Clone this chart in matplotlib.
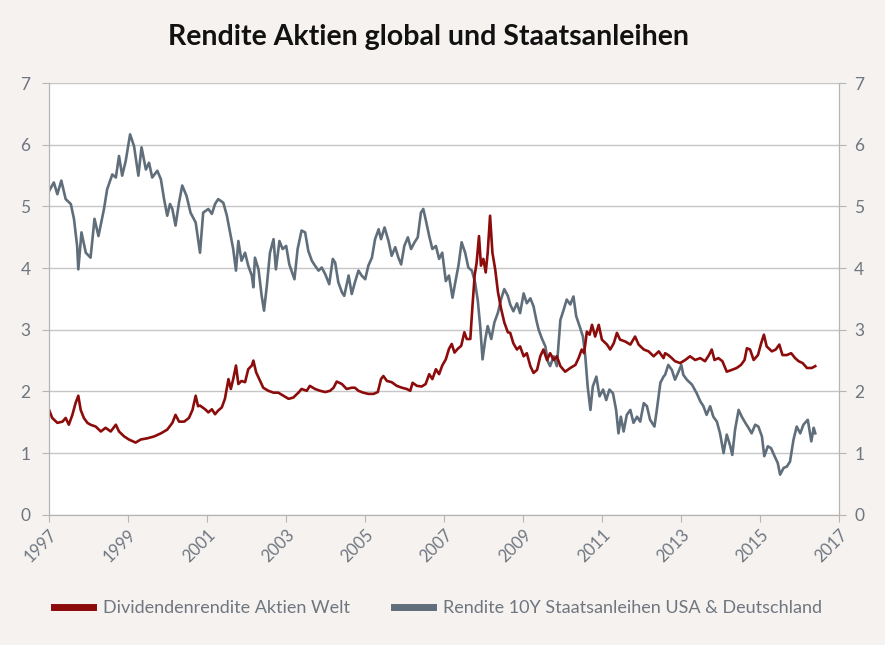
import numpy as np
import matplotlib
matplotlib.use("Agg")
import matplotlib.pyplot as plt

# Rendite 10Y Staatsanleihen USA & Deutschland
bond_years = [1997.01, 1997.13, 1997.22, 1997.32, 1997.43, 1997.56, 1997.64, 1997.72, 1997.75, 1997.83,
              1997.94, 1998.06, 1998.16, 1998.26, 1998.40, 1998.48, 1998.61, 1998.70, 1998.78, 1998.86,
              1998.95, 1999.06, 1999.16, 1999.27, 1999.35, 1999.46, 1999.54, 1999.62, 1999.75, 1999.84,
              1999.92, 2000.00, 2000.07, 2000.13, 2000.21, 2000.30, 2000.38, 2000.49, 2000.59, 2000.72,
              2000.83, 2000.91, 2001.04, 2001.13, 2001.21, 2001.29, 2001.42, 2001.51, 2001.59, 2001.67,
              2001.74, 2001.80, 2001.88, 2001.97, 2002.05, 2002.14, 2002.18, 2002.22, 2002.31, 2002.39,
              2002.45, 2002.52, 2002.60, 2002.69, 2002.75, 2002.84, 2002.92, 2003.01, 2003.09, 2003.22,
              2003.30, 2003.40, 2003.49, 2003.57, 2003.66, 2003.74, 2003.83, 2003.91, 2004.00, 2004.10,
              2004.19, 2004.25, 2004.33, 2004.42, 2004.48, 2004.59, 2004.67,
              2004.75, 2004.84, 2004.92, 2005.01, 2005.09, 2005.18, 2005.26, 2005.35, 2005.41, 2005.50,
              2005.60, 2005.68, 2005.77, 2005.85, 2005.92, 2006.00, 2006.09, 2006.17, 2006.26, 2006.34,
              2006.42, 2006.48, 2006.54, 2006.63, 2006.71, 2006.80, 2006.88, 2006.96, 2007.05, 2007.13,
              2007.22, 2007.29, 2007.37, 2007.45, 2007.54, 2007.62, 2007.71, 2007.79, 2007.86, 2007.92,
              2007.98, 2008.05, 2008.11, 2008.20, 2008.28, 2008.37, 2008.45, 2008.53, 2008.62,
              2008.68, 2008.76, 2008.85, 2008.93, 2009.02, 2009.10, 2009.19, 2009.27, 2009.34, 2009.40,
              2009.48, 2009.57, 2009.63, 2009.69, 2009.78, 2009.86, 2009.95, 2010.03, 2010.11, 2010.20,
              2010.28, 2010.35, 2010.44, 2010.52, 2010.58, 2010.64, 2010.71, 2010.77, 2010.86, 2010.94,
              2011.03, 2011.11, 2011.19, 2011.28, 2011.36, 2011.42, 2011.48, 2011.55, 2011.63, 2011.72,
              2011.80, 2011.89, 2011.97, 2012.06, 2012.14, 2012.22, 2012.33, 2012.39, 2012.48, 2012.56,
              2012.60, 2012.68, 2012.77, 2012.85, 2012.94, 2013.01, 2013.06, 2013.15, 2013.28, 2013.40,
              2013.49, 2013.57, 2013.65, 2013.74, 2013.82, 2013.91, 2013.99, 2014.08, 2014.16, 2014.25,
              2014.30, 2014.37, 2014.46, 2014.54, 2014.63, 2014.71, 2014.79, 2014.88, 2014.96, 2015.05,
              2015.11, 2015.20, 2015.28, 2015.37, 2015.45, 2015.51, 2015.60, 2015.68, 2015.76, 2015.85,
              2015.93, 2016.02, 2016.10, 2016.21, 2016.30, 2016.36, 2016.40]
bond_vals = [5.25, 5.39, 5.20, 5.42, 5.12, 5.04, 4.80, 4.36, 3.98, 4.58,
             4.25, 4.17, 4.80, 4.52, 4.96, 5.28, 5.52, 5.47, 5.82, 5.50,
             5.74, 6.17, 5.98, 5.50, 5.96, 5.60, 5.71, 5.47, 5.58, 5.44,
             5.12, 4.85, 5.04, 4.96, 4.69, 5.07, 5.34, 5.17, 4.90, 4.74,
             4.25, 4.90, 4.96, 4.88, 5.04, 5.12, 5.06, 4.85, 4.58, 4.31,
             3.96, 4.44, 4.12, 4.25, 4.04, 3.88, 3.69, 4.17, 3.98, 3.55,
             3.31, 3.71, 4.25, 4.47, 3.98, 4.44, 4.31, 4.36, 4.06, 3.82,
             4.31, 4.61, 4.58, 4.28, 4.12, 4.04, 3.96, 4.01, 3.90, 3.74,
             4.15, 4.09, 3.77, 3.61, 3.55, 3.88, 3.58,
             3.77, 3.96, 3.88, 3.82, 4.04, 4.17, 4.47, 4.63, 4.47, 4.66,
             4.44, 4.20, 4.34, 4.17, 4.06, 4.36, 4.50, 4.31, 4.42, 4.50,
             4.90, 4.96, 4.79, 4.52, 4.31, 4.36, 4.15, 4.25, 3.79, 3.88,
             3.52, 3.77, 4.04, 4.42, 4.25, 4.01, 3.96, 3.77, 3.47, 3.06,
             2.52, 2.85, 3.06, 2.85, 3.12, 3.28, 3.50, 3.66, 3.55,
             3.41, 3.30, 3.43, 3.27, 3.59, 3.43, 3.51, 3.38, 3.16, 3.00,
             2.86, 2.73, 2.49, 2.41, 2.57, 2.41, 3.16, 3.32, 3.49, 3.41,
             3.54, 3.22, 3.05, 2.89, 2.57, 2.08, 1.70, 2.08, 2.24, 1.92,
             2.03, 1.86, 2.03, 1.97, 1.70, 1.32, 1.59, 1.35, 1.62, 1.70,
             1.49, 1.59, 1.51, 1.81, 1.76, 1.54, 1.43, 1.70, 2.14, 2.24,
             2.27, 2.43, 2.35, 2.19, 2.32, 2.43, 2.27, 2.19, 2.11, 1.97,
             1.84, 1.76, 1.62, 1.76, 1.59, 1.51, 1.32, 1.00, 1.30, 1.11,
             0.97, 1.38, 1.70, 1.59, 1.49, 1.41, 1.32, 1.46, 1.43, 1.27,
             0.95, 1.11, 1.08, 0.95, 0.84, 0.65, 0.76, 0.78, 0.86, 1.22,
             1.43, 1.32, 1.46, 1.54, 1.19, 1.41, 1.32]

# Dividendenrendite Aktien Welt
div_years = [1997.01, 1997.09, 1997.22, 1997.35, 1997.43, 1997.51, 1997.60, 1997.68, 1997.75, 1997.81,
             1997.89, 1997.98, 1998.06, 1998.19, 1998.32, 1998.44, 1998.57, 1998.70, 1998.78, 1998.91,
             1999.03, 1999.20, 1999.33, 1999.50, 1999.67, 1999.84, 2000.00, 2000.13, 2000.21, 2000.30,
             2000.43, 2000.55, 2000.64, 2000.72, 2000.78,
             2000.83, 2000.96, 2001.04, 2001.13, 2001.21, 2001.29, 2001.38, 2001.46, 2001.55, 2001.61,
             2001.67, 2001.74, 2001.80, 2001.88, 2001.97, 2002.05, 2002.14, 2002.18, 2002.25, 2002.35,
             2002.43, 2002.56, 2002.69, 2002.81, 2002.94, 2003.07, 2003.19, 2003.32, 2003.40, 2003.53,
             2003.61, 2003.74, 2003.87, 2004.00, 2004.12, 2004.21, 2004.29, 2004.42, 2004.54, 2004.67,
             2004.75, 2004.84, 2004.96, 2005.09, 2005.22, 2005.33, 2005.41, 2005.47, 2005.56, 2005.68,
             2005.81, 2005.94, 2006.06, 2006.15, 2006.21, 2006.32, 2006.44, 2006.54, 2006.63, 2006.71,
             2006.80, 2006.88, 2006.96, 2007.05, 2007.13, 2007.20, 2007.27, 2007.35, 2007.44, 2007.52,
             2007.58, 2007.67, 2007.72, 2007.78, 2007.83, 2007.89, 2007.94, 2008.00, 2008.06, 2008.11,
             2008.17, 2008.23, 2008.30, 2008.37, 2008.45, 2008.53, 2008.62,
             2008.68, 2008.76, 2008.85, 2008.93, 2009.02, 2009.10, 2009.19, 2009.27, 2009.36, 2009.44,
             2009.52, 2009.61, 2009.69, 2009.78, 2009.86, 2009.95, 2010.07, 2010.20, 2010.33, 2010.41,
             2010.49, 2010.55, 2010.62, 2010.69, 2010.75, 2010.83, 2010.92, 2011.00, 2011.13, 2011.21,
             2011.30, 2011.38, 2011.46, 2011.59, 2011.72, 2011.84, 2011.93, 2012.06, 2012.18, 2012.31,
             2012.44, 2012.56,
             2012.60, 2012.68, 2012.77, 2012.85, 2012.98, 2013.11, 2013.23, 2013.36, 2013.49, 2013.61,
             2013.71, 2013.78, 2013.85, 2013.95, 2014.05, 2014.16, 2014.29, 2014.41, 2014.52, 2014.61,
             2014.67, 2014.75, 2014.84, 2014.95, 2015.03, 2015.10, 2015.17, 2015.30, 2015.40, 2015.49,
             2015.57, 2015.68, 2015.79, 2015.89, 2015.98, 2016.08, 2016.19, 2016.31, 2016.40]
div_vals = [1.70, 1.57, 1.49, 1.51, 1.57, 1.46, 1.62, 1.81, 1.93, 1.70,
            1.57, 1.49, 1.46, 1.43, 1.35, 1.41, 1.35, 1.46, 1.35, 1.27,
            1.22, 1.17, 1.22, 1.24, 1.27, 1.32, 1.38, 1.49, 1.62, 1.51,
            1.51, 1.57, 1.70, 1.93, 1.76,
            1.77, 1.71, 1.66, 1.71, 1.63, 1.69, 1.74, 1.88, 2.20, 2.04,
            2.20, 2.42, 2.12, 2.17, 2.15, 2.36, 2.42, 2.50, 2.31, 2.17,
            2.06, 2.01, 1.98, 1.98, 1.93, 1.88, 1.90, 1.98, 2.04, 2.01,
            2.09, 2.04, 2.01, 1.99, 2.01, 2.06, 2.16, 2.12, 2.04, 2.06,
            2.06, 2.01, 1.98, 1.96, 1.96, 1.99, 2.20, 2.25, 2.17, 2.15,
            2.09, 2.06, 2.04, 2.01, 2.14, 2.09, 2.08, 2.12, 2.28, 2.20,
            2.36, 2.28, 2.42, 2.52, 2.69, 2.77, 2.63, 2.69, 2.74, 2.96,
            2.85, 2.85, 3.34, 3.88, 4.09, 4.52, 4.04, 4.15, 3.93, 4.25,
            4.85, 4.25, 3.98, 3.61, 3.34, 3.12, 2.96,
            2.95, 2.78, 2.68, 2.73, 2.57, 2.62, 2.41, 2.30, 2.35, 2.57,
            2.68, 2.51, 2.62, 2.51, 2.57, 2.41, 2.32, 2.38, 2.43, 2.54,
            2.68, 2.62, 2.97, 2.92, 3.08, 2.89, 3.08, 2.84, 2.76, 2.68,
            2.78, 2.95, 2.84, 2.81, 2.76, 2.89, 2.76, 2.68, 2.65, 2.57,
            2.65, 2.54,
            2.62, 2.59, 2.54, 2.49, 2.46, 2.51, 2.57, 2.51, 2.54, 2.49,
            2.59, 2.68, 2.51, 2.54, 2.49, 2.32, 2.35, 2.38, 2.43, 2.51,
            2.70, 2.68, 2.51, 2.59, 2.78, 2.92, 2.73, 2.65, 2.68, 2.76,
            2.59, 2.59, 2.62, 2.54, 2.49, 2.46, 2.38, 2.38, 2.41]

year_ticks = list(range(1997, 2018, 2))
y_ticks = list(range(0, 8))

red = "#8c0b0b"
slate = "#5f6e7a"
txt = "#6f7680"
bg = "#f5f2ef"
fam = ["Lato", "DejaVu Sans"]

fig = plt.figure(figsize=(8.85, 6.45), dpi=100, facecolor=bg)
ax = fig.add_axes([0.055, 0.202, 0.893, 0.669])
ax.set_facecolor("white")

ax.plot(bond_years, bond_vals, color=slate, lw=1.9, label="Rendite 10Y Staatsanleihen USA & Deutschland", zorder=3)
ax.plot(div_years, div_vals, color=red, lw=1.9, label="Dividendenrendite Aktien Welt", zorder=4)

ax.set_xlim(1997, 2017)
ax.set_ylim(0, 7)
ax.set_xticks(year_ticks)
ax.set_xticklabels([str(y) for y in year_ticks], rotation=45, ha="right", rotation_mode="anchor",
                   family=fam, fontsize=12, color=txt)
ax.set_yticks(y_ticks)
ax.set_yticklabels([str(v) for v in y_ticks], family=fam, fontsize=12.5, color=txt)
ax.yaxis.grid(True, color="#c6c6c6", lw=1.0)
ax.set_axisbelow(True)
ax.spines["top"].set_visible(False)
for s in ["left", "right", "bottom"]:
    ax.spines[s].set_color("#b5b5b5")
ax.tick_params(axis="both", colors="#b5b5b5", length=5, labelcolor=txt)
ax.tick_params(axis="y", pad=8)

ax2 = ax.twinx()
ax2.set_ylim(0, 7)
ax2.set_yticks(y_ticks)
ax2.set_yticklabels([str(v) for v in y_ticks], family=fam, fontsize=12.5, color=txt)
ax2.tick_params(axis="y", colors="#b5b5b5", length=5, labelcolor=txt, pad=6)
ax2.spines["top"].set_visible(False)
for s in ["left", "right", "bottom"]:
    ax2.spines[s].set_color("#b5b5b5")

fig.text(0.484, 0.943, "Rendite Aktien global und Staatsanleihen", ha="center", va="center",
         family=fam, fontsize=20.5, fontweight="bold", color="#111111")

h, l = ax.get_legend_handles_labels()
leg = fig.legend(h[::-1], l[::-1], loc="center", bbox_to_anchor=(0.495, 0.057), ncol=2, frameon=False,
                 handlelength=2.2, columnspacing=2.4, handletextpad=0.55,
                 prop={"family": fam, "size": 13})
for line in leg.get_lines():
    line.set_linewidth(5)
for t in leg.get_texts():
    t.set_color(txt)

fig.savefig("out.png", dpi=100, facecolor=bg)
